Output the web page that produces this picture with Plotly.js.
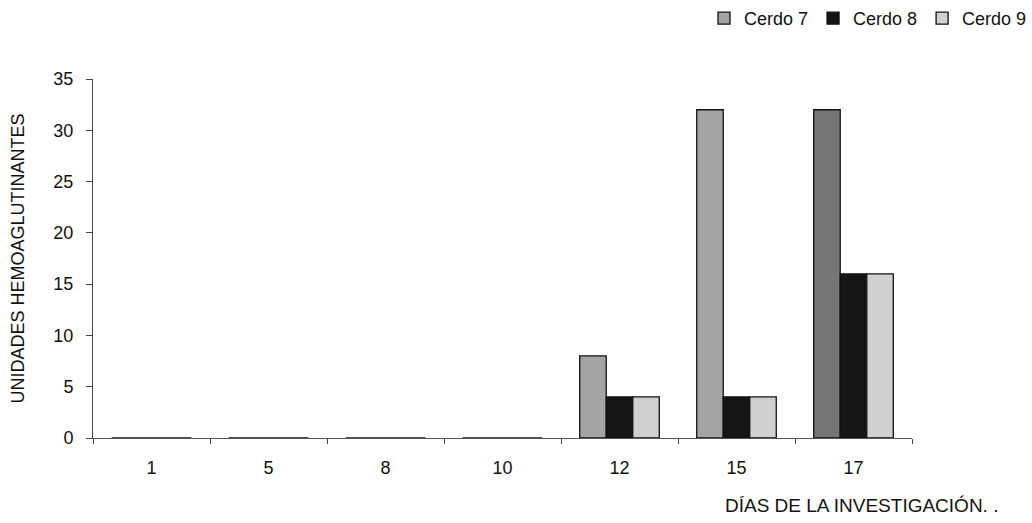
<!DOCTYPE html>
<html><head><meta charset="utf-8">
<script src="https://cdn.plot.ly/plotly-3.0.1.min.js"></script>
<style>body{margin:0;background:#fff}#c{width:1032px;height:523px}</style>
</head><body><div id="c"></div>
<script>
var days = ['1','5','8','10','12','15','17'];
var cerdo7 = [0,0,0,0,8,32,32];
var cerdo8 = [0,0,0,0,4,4,16];
var cerdo9 = [0,0,0,0,4,4,16];
var seriesNames = ['Cerdo 7','Cerdo 8','Cerdo 9'];
var yTicks = [0,5,10,15,20,25,30,35];

var colors = [['#a4a4a4','#a4a4a4','#a4a4a4','#a4a4a4','#a4a4a4','#a4a4a4','#767676'],'#151515','#d0d0d0'];
var data = [cerdo7,cerdo8,cerdo9].map(function(v,i){
  return {type:'bar', x:days, y:v, name:seriesNames[i],
    marker:{color:colors[i], line:{color:'#111', width:1.3}}};
});
var layout = {
  width:1032, height:523,
  margin:{l:93, r:120, t:79, b:85, autoexpand:false},
  paper_bgcolor:'#fff', plot_bgcolor:'#fff',
  font:{family:'Liberation Sans, Arial, sans-serif', color:'#111', size:18},
  barmode:'group', bargap:0.32, bargroupgap:0,
  showlegend:true,
  legend:{orientation:'h', xref:'container', yref:'container', x:1, xanchor:'right',
    y:1, yanchor:'top', font:{size:18}, traceorder:'normal', itemwidth:30},
  xaxis:{type:'category', showline:true, linecolor:'#555', linewidth:1, layer:'above traces',
    ticks:'outside', tickson:'boundaries', ticklen:5, tickcolor:'#444',
    showgrid:false, zeroline:false, tickfont:{size:18}, ticklabelstandoff:13,
    range:[-0.5,6.5]},
  yaxis:{range:[0,35], tickvals:yTicks, showline:true, linecolor:'#444', linewidth:1,
    ticks:'outside', ticklen:6, tickcolor:'#444', showgrid:false, zeroline:false,
    tickfont:{size:18}, ticklabelstandoff:9,
    title:{text:'UNIDADES HEMOAGLUTINANTES', font:{size:18}, standoff:24}},
  annotations:[{text:'DÍAS DE LA INVESTIGACIÓN. .', xref:'paper', yref:'paper',
    x:1.107, y:-0.187, xanchor:'right', yanchor:'middle', showarrow:false, font:{size:19}}]
};
Plotly.newPlot('c', data, layout, {displayModeBar:false, staticPlot:true});
</script></body></html>
